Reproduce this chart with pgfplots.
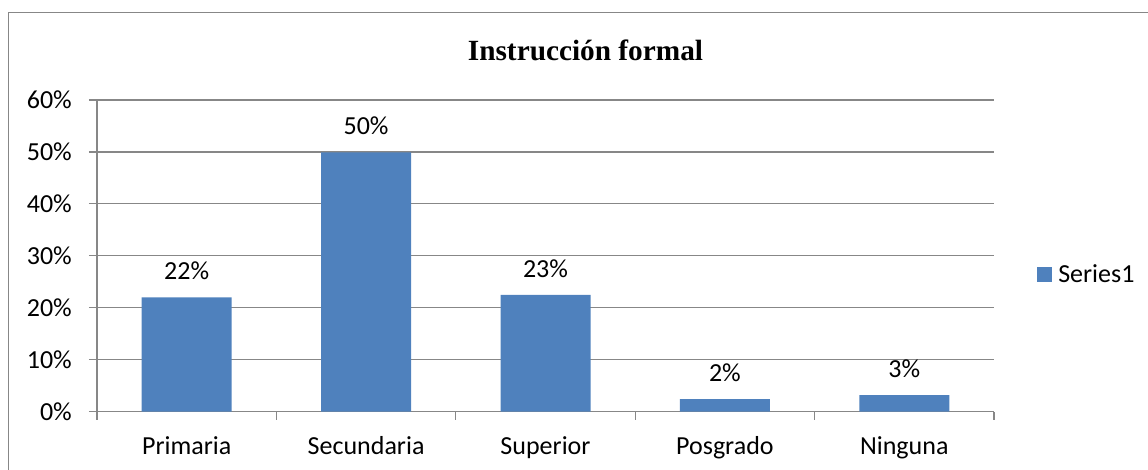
\documentclass[border=0pt]{standalone}
\usepackage{fontspec}
\setmainfont{Carlito}
\newfontfamily\titlefont{Liberation Serif}
\usepackage{pgfplots}
\pgfplotsset{compat=1.18}
\definecolor{barblue}{HTML}{4F81BD}
\definecolor{axgray}{HTML}{878787}
\begin{document}
\begin{tikzpicture}[x=1pt,y=1pt]
\useasboundingbox (0,0) rectangle (1148,470);
\draw[axgray,line width=1.5pt] (8.5,0) -- (8.5,457.5) -- (1148,457.5);
\node[anchor=base,font=\titlefont\fontsize{29.3}{32}\selectfont\bfseries] at (585.5,409.3) {Instrucción formal};
\begin{axis}[
  at={(97pt,58.3pt)}, anchor=south west,
  scale only axis, width=897pt, height=311.7pt,
  xmin=-0.5, xmax=4.5, ymin=0, ymax=60,
  axis x line*=bottom, axis y line*=left,
  axis line style={axgray,line width=1.2pt},
  tick align=outside, major tick length=8pt,
  tick style={axgray,line width=1.2pt},
  ytick={0,10,...,60},
  yticklabel={\pgfmathprintnumber{\tick}\%},
  /pgf/number format/assume math mode=true,
  yticklabel style={font=\fontsize{26}{30}\selectfont, anchor=east, inner sep=0pt, xshift=-17pt},
  ymajorgrids, grid style={axgray,line width=1.2pt},
  xtick={-0.5,0.5,1.5,2.5,3.5,4.5}, xticklabels={},
  extra x ticks={0,1,2,3,4},
  extra x tick labels={Primaria,Secundaria,Superior,Posgrado,Ninguna},
  extra x tick style={major tick length=0pt, tick style={draw=none}, grid=none,
    xticklabel style={font=\fontsize{26}{30}\selectfont, anchor=base, inner sep=0pt, yshift=-43pt}},
  ybar, bar width=90pt,
  nodes near coords, point meta=explicit symbolic,
  every node near coord/.append style={font=\fontsize{26}{30}\selectfont, anchor=base, inner sep=0pt, yshift=17.5pt},
  legend style={at={(1.048,0.44)}, anchor=west, draw=none, fill=none, inner sep=0pt,
    font=\fontsize{26}{30}\selectfont, nodes={inner sep=0pt, anchor=west}},
  legend image code/.code={\fill[barblue] (0pt,-7.5pt) rectangle (15pt,7.5pt);},
]
\addplot[fill=barblue, draw=none] coordinates {
  (0,22.0) [22\%]
  (1,49.9) [50\%]
  (2,22.5) [23\%]
  (3,2.4) [2\%]
  (4,3.2) [3\%]
};
\addlegendentry{\hspace{6pt}Series1}
\end{axis}
\end{tikzpicture}
\end{document}
